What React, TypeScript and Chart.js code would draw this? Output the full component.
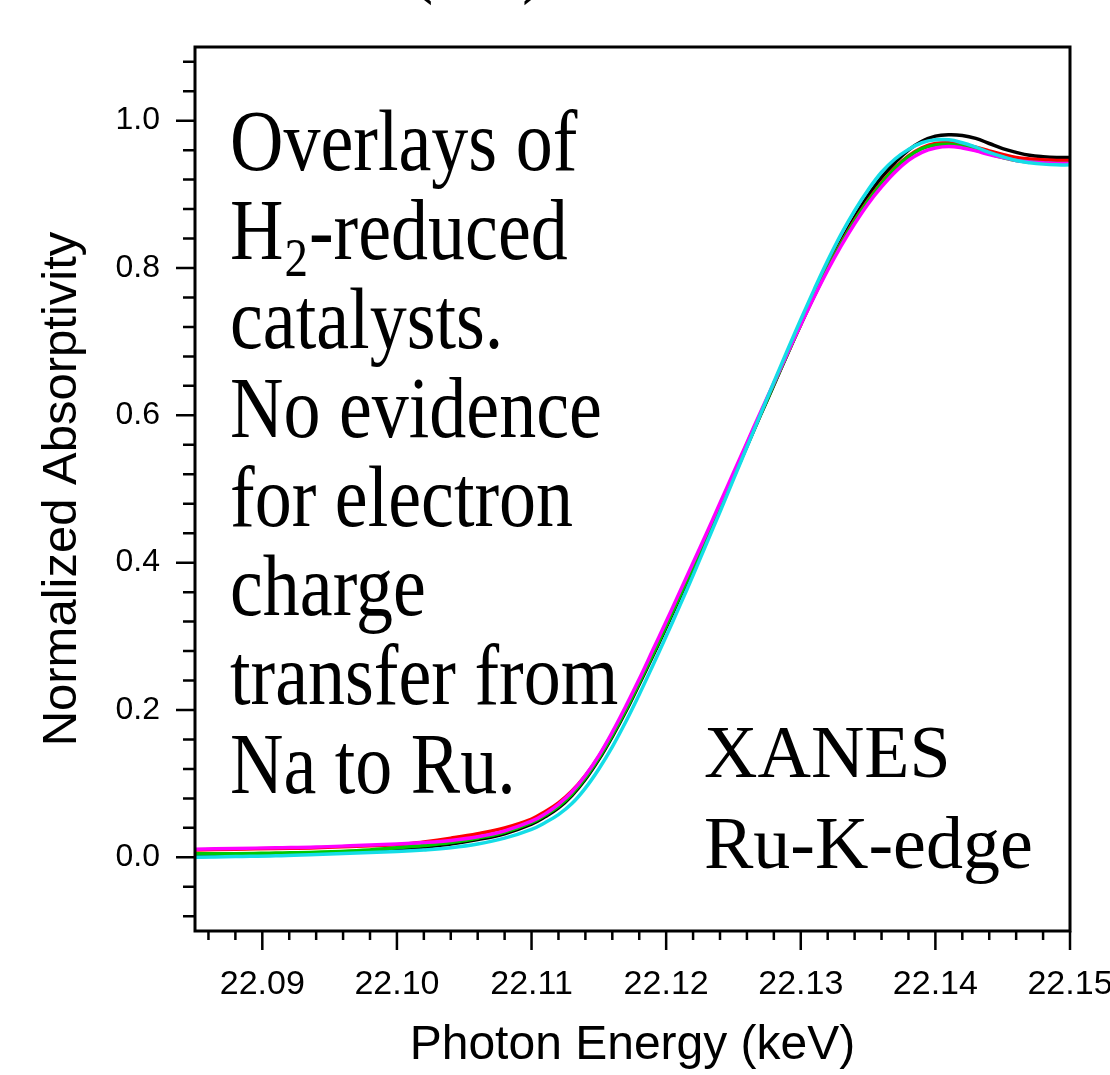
import React, { useEffect, useRef } from "react";
import { Chart, registerables } from "chart.js";

Chart.register(...registerables);

// ---------- data ----------
const energy = [
  22.085, 22.088, 22.091, 22.094, 22.097, 22.1, 22.102, 22.104, 22.106, 22.108,
  22.11, 22.111, 22.112, 22.113, 22.114, 22.115, 22.116, 22.117, 22.118, 22.119,
  22.12, 22.121, 22.122, 22.123, 22.124, 22.125, 22.126, 22.127, 22.128, 22.129,
  22.13, 22.131, 22.132, 22.133, 22.134, 22.135, 22.136, 22.137, 22.138, 22.139,
  22.14, 22.141, 22.142, 22.143, 22.144, 22.145, 22.146, 22.147, 22.148, 22.149,
  22.15,
];

const seriesBlack = [
  0.001, 0.002, 0.004, 0.005, 0.008, 0.011, 0.014, 0.018, 0.024, 0.032,
  0.045, 0.055, 0.067, 0.084, 0.106, 0.133, 0.164, 0.198, 0.235, 0.273,
  0.312, 0.352, 0.392, 0.433, 0.474, 0.516, 0.558, 0.6, 0.641, 0.683,
  0.724, 0.764, 0.802, 0.837, 0.869, 0.898, 0.923, 0.943, 0.96, 0.972,
  0.979, 0.981, 0.98, 0.976, 0.969, 0.962, 0.957, 0.953, 0.951, 0.95,
  0.95,
];

const seriesRed = [
  0.01, 0.011, 0.012, 0.013, 0.015, 0.017, 0.021, 0.026, 0.032, 0.04,
  0.052, 0.062, 0.074, 0.09, 0.111, 0.137, 0.168, 0.202, 0.239, 0.277,
  0.316, 0.356, 0.396, 0.437, 0.478, 0.519, 0.561, 0.602, 0.643, 0.684,
  0.724, 0.763, 0.8, 0.834, 0.865, 0.892, 0.916, 0.936, 0.952, 0.963,
  0.969, 0.97, 0.968, 0.964, 0.959, 0.954, 0.95, 0.948, 0.947, 0.946,
  0.946,
];

const seriesGreen = [
  0.005, 0.005, 0.006, 0.007, 0.009, 0.013, 0.016, 0.02, 0.026, 0.034,
  0.047, 0.057, 0.069, 0.086, 0.108, 0.135, 0.166, 0.2, 0.237, 0.275,
  0.314, 0.354, 0.394, 0.435, 0.476, 0.518, 0.56, 0.601, 0.642, 0.683,
  0.723, 0.762, 0.799, 0.833, 0.864, 0.891, 0.915, 0.935, 0.951, 0.962,
  0.967, 0.968, 0.965, 0.96, 0.955, 0.95, 0.946, 0.944, 0.943, 0.942,
  0.942,
];

const seriesMagenta = [
  0.011, 0.012, 0.013, 0.014, 0.016, 0.018, 0.02, 0.023, 0.028, 0.036,
  0.049, 0.059, 0.072, 0.089, 0.111, 0.138, 0.17, 0.205, 0.242, 0.281,
  0.32, 0.36, 0.4, 0.44, 0.481, 0.522, 0.563, 0.604, 0.644, 0.684,
  0.723, 0.761, 0.797, 0.83, 0.86, 0.887, 0.91, 0.93, 0.946, 0.957,
  0.963, 0.965, 0.963, 0.959, 0.954, 0.95, 0.946, 0.944, 0.943, 0.942,
  0.942,
];

const seriesCyan = [
  0.0, 0.001, 0.002, 0.004, 0.006, 0.008, 0.01, 0.013, 0.018, 0.026,
  0.038, 0.047, 0.058, 0.073, 0.094, 0.12, 0.15, 0.184, 0.221, 0.26,
  0.3, 0.341, 0.383, 0.426, 0.469, 0.513, 0.557, 0.601, 0.645, 0.688,
  0.73, 0.771, 0.81, 0.846, 0.878, 0.906, 0.93, 0.948, 0.961, 0.97,
  0.974, 0.974, 0.97, 0.964, 0.957, 0.951, 0.946, 0.943, 0.941, 0.94,
  0.94,
];

const xTickValues = [22.09, 22.1, 22.11, 22.12, 22.13, 22.14, 22.15];
const xTickLabels = ["22.09", "22.10", "22.11", "22.12", "22.13", "22.14", "22.15"];
const yTickValues = [0, 0.2, 0.4, 0.6, 0.8, 1.0];
const yTickLabels = ["0.0", "0.2", "0.4", "0.6", "0.8", "1.0"];

const xTitle = "Photon Energy (keV)";
const yTitle = "Normalized Absorptivity";
const leftNote = [
  "Overlays of",
  "H\u2082-reduced",
  "catalysts.",
  "No evidence",
  "for electron",
  "charge",
  "transfer from",
  "Na to Ru.",
];
const rightNote = ["XANES", "Ru-K-edge"];
const topLabel = "(Ru)";

// ---------- helpers ----------
const SANS = '"Liberation Sans", Arial, Helvetica, sans-serif';
const SERIF = '"Liberation Serif", "Times New Roman", Times, serif';

const minorX: number[] = [];
for (let i = 0; i <= 32; i++) minorX.push(22.086 + i * 0.002);
const minorY: number[] = [];
for (let i = 0; i <= 29; i++) minorY.push(-0.08 + i * 0.04);

function drawRich(ctx: CanvasRenderingContext2D, text: string, size: number) {
  const parts = text.split("\u2082");
  let x = 0;
  parts.forEach((p, i) => {
    ctx.font = `${size}px ${SERIF}`;
    ctx.fillText(p, x, 0);
    x += ctx.measureText(p).width;
    if (i < parts.length - 1) {
      ctx.font = `${Math.round(size * 0.63)}px ${SERIF}`;
      ctx.fillText("2", x + 1, size * 0.2);
      x += ctx.measureText("2").width + 2;
    }
  });
}

const framePlugin = {
  id: "frameAndNotes",
  afterDraw(chart: any) {
    const { ctx, chartArea: a, scales } = chart;
    const xs = scales.x;
    const ys = scales.y;
    ctx.save();
    ctx.strokeStyle = "#000";
    ctx.lineWidth = 3;
    ctx.strokeRect(a.left, a.top, a.right - a.left, a.bottom - a.top);

    ctx.lineWidth = 2.5;
    ctx.beginPath();
    minorX.forEach((v) => {
      const px = xs.getPixelForValue(v);
      ctx.moveTo(px, a.bottom);
      ctx.lineTo(px, a.bottom + 9);
    });
    xTickValues.forEach((v) => {
      const px = xs.getPixelForValue(v);
      ctx.moveTo(px, a.bottom);
      ctx.lineTo(px, a.bottom + 19);
    });
    minorY.forEach((v) => {
      const py = ys.getPixelForValue(v);
      ctx.moveTo(a.left, py);
      ctx.lineTo(a.left - 12, py);
    });
    yTickValues.forEach((v) => {
      const py = ys.getPixelForValue(v);
      ctx.moveTo(a.left, py);
      ctx.lineTo(a.left - 19, py);
    });
    ctx.stroke();

    ctx.fillStyle = "#000";
    ctx.textBaseline = "alphabetic";
    ctx.textAlign = "left";
    leftNote.forEach((line, i) => {
      ctx.save();
      ctx.translate(230, 170 + i * 89);
      ctx.scale(1, 1.17);
      drawRich(ctx, line, 74);
      ctx.restore();
    });
    rightNote.forEach((line, i) => {
      ctx.save();
      ctx.translate(704, 777 + i * 91);
      drawRich(ctx, line, 74);
      ctx.restore();
    });
    ctx.save();
    ctx.translate(408, -15);
    ctx.scale(1, 1.25);
    drawRich(ctx, topLabel, 76);
    ctx.restore();
    ctx.restore();
  },
};

export default function App() {
  const ref = useRef<HTMLCanvasElement | null>(null);

  useEffect(() => {
    if (!ref.current) return;
    const mk = (label: string, data: number[], color: string, order: number) => ({
      label,
      data: energy.map((e, i) => ({ x: e, y: data[i] })),
      borderColor: color,
      backgroundColor: color,
      borderWidth: 3.5,
      pointRadius: 0,
      tension: 0.4,
      fill: false,
      order,
    });
    const chart = new Chart(ref.current, {
      type: "line",
      data: {
        datasets: [
          mk("black", seriesBlack, "#000000", 5),
          mk("red", seriesRed, "#ff0000", 4),
          mk("green", seriesGreen, "#00c800", 3),
          mk("magenta", seriesMagenta, "#ff00ff", 2),
          mk("cyan", seriesCyan, "#14dde6", 1),
        ],
      },
      options: {
        responsive: false,
        animation: false,
        layout: { padding: { left: 0, top: 47, right: 40, bottom: 0 } },
        plugins: {
          legend: { display: false },
          tooltip: { enabled: false },
        },
        scales: {
          x: {
            type: "linear",
            min: 22.085,
            max: 22.15,
            afterBuildTicks: (s: any) => {
              s.ticks = xTickValues.map((v) => ({ value: v }));
            },
            afterFit: (s: any) => {
              s.height = 1075 - 931;
              s.paddingLeft = 0;
              s.paddingRight = 0;
            },
            grid: { display: false, drawTicks: false, tickLength: 0 },
            border: { display: false },
            ticks: {
              color: "#000",
              font: { family: SANS, size: 34 },
              padding: 33,
              maxRotation: 0,
              autoSkip: false,
              callback: (_v: any, i: number) => xTickLabels[i],
            },
            title: {
              display: true,
              text: xTitle,
              color: "#000",
              font: { family: SANS, size: 48 },
              padding: { top: 0, bottom: 0 },
            },
          },
          y: {
            type: "linear",
            min: -0.1,
            max: 1.1,
            afterBuildTicks: (s: any) => {
              s.ticks = yTickValues.map((v) => ({ value: v }));
            },
            afterFit: (s: any) => {
              s.width = 195;
              s.paddingTop = 0;
              s.paddingBottom = 0;
            },
            grid: { display: false, drawTicks: false, tickLength: 0 },
            border: { display: false },
            ticks: {
              color: "#000",
              font: { family: SANS, size: 32 },
              padding: 35,
              autoSkip: false,
              callback: (_v: any, i: number) => yTickLabels[i],
            },
            title: {
              display: true,
              text: yTitle,
              color: "#000",
              font: { family: SANS, size: 49 },
              padding: { top: 33, bottom: 0 },
            },
          },
        },
      },
      plugins: [framePlugin],
    } as any);
    return () => chart.destroy();
  }, []);

  return (
    <div style={{ position: "absolute", left: 0, top: 0, width: 1110, height: 1075, background: "#fff" }}>
      <canvas ref={ref} width={1110} height={1075} style={{ display: "block", width: 1110, height: 1075 }} />
    </div>
  );
}
